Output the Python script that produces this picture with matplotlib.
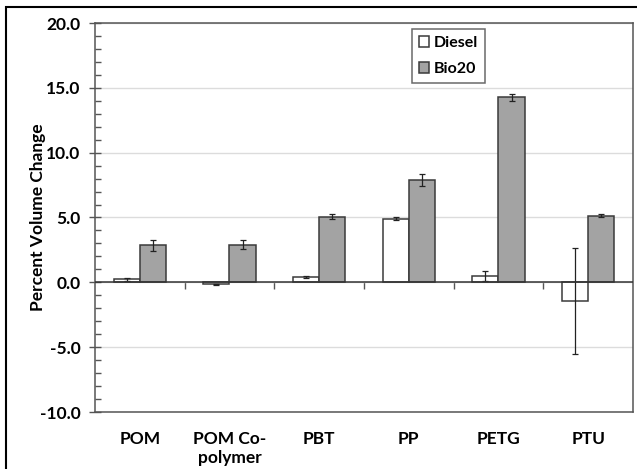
import numpy as np
import matplotlib
matplotlib.use('Agg')
import matplotlib.pyplot as plt
from matplotlib.patches import Rectangle

# values
materials = ['POM', 'POM Co-\npolymer', 'PBT', 'PP', 'PETG', 'PTU']
diesel = [0.22, -0.15, 0.40, 4.90, 0.46, -1.44]
diesel_err = [0.15, 0.03, 0.05, 0.10, 0.38, 4.10]
bio20 = [2.85, 2.90, 5.05, 7.88, 14.28, 5.15]
bio20_err = [0.45, 0.33, 0.20, 0.45, 0.28, 0.13]

plt.rcParams['font.family'] = ['Lato', 'DejaVu Sans']
plt.rcParams['font.weight'] = 'bold'
plt.rcParams['axes.labelweight'] = 'bold'

fig = plt.figure(figsize=(6.37, 4.69), dpi=100)
ax = fig.add_axes([95 / 637, 57 / 469, 538 / 637, 389 / 469])

x = np.arange(len(materials))
w = 0.29
edge = '#3a3a3a'
ax.bar(x - w / 2, diesel, w, color='white', edgecolor=edge, linewidth=1.1,
       label='Diesel', zorder=3)
ax.bar(x + w / 2, bio20, w, color='#a3a3a3', edgecolor=edge, linewidth=1.1,
       label='Bio20', zorder=3)
ax.errorbar(x - w / 2, diesel, yerr=diesel_err, fmt='none', ecolor='#222222',
            elinewidth=0.9, capsize=2.5, capthick=0.9, zorder=4)
ax.errorbar(x + w / 2, bio20, yerr=bio20_err, fmt='none', ecolor='#222222',
            elinewidth=0.9, capsize=2.5, capthick=0.9, zorder=4)

ax.set_xlim(-0.5, len(materials) - 0.5)
ax.set_ylim(-10, 20)
ax.set_yticks(np.arange(-10, 20.1, 5))
ax.set_yticklabels([f'{v:.1f}' for v in np.arange(-10, 20.1, 5)])
ax.set_yticks(np.arange(-10, 20.1, 1), minor=True)
ax.yaxis.grid(True, color='#dcdcdc', linewidth=1.0, zorder=0)
ax.set_axisbelow(True)
ax.tick_params(axis='y', which='major', direction='inout', length=9,
               width=1, color='#555555', labelsize=12.5, pad=6)
ax.tick_params(axis='y', which='minor', direction='in', length=4,
               width=1, color='#555555')

ax.set_xticks(x)
ax.set_xticklabels(materials, fontsize=12.5, linespacing=1.2)
ax.tick_params(axis='x', length=0, pad=14)

# zero line with category boundary ticks
ax.axhline(0, color='#333333', linewidth=1.1, zorder=5)
sec = ax.secondary_xaxis(1 / 3)
sec.set_xticks(np.arange(0.5, len(materials) - 0.5, 1))
sec.set_xticklabels([])
sec.tick_params(direction='out', length=5, width=1, color='#555555')
sec.spines['bottom'].set_visible(False)
sec.spines['top'].set_visible(False)

for s in ax.spines.values():
    s.set_color('#555555')
    s.set_linewidth(1.1)

ax.set_ylabel('Percent Volume Change', fontsize=12.5)
ax.yaxis.set_label_coords(-0.092, 0.5)

leg = ax.legend(loc='upper left', bbox_to_anchor=(317 / 538, 383 / 389),
                fontsize=11.5, frameon=True, fancybox=False,
                handlelength=0.6, handleheight=0.6, handletextpad=0.3,
                borderpad=0.45, labelspacing=0.75, borderaxespad=0)
leg.get_frame().set_edgecolor('#444444')
leg.get_frame().set_linewidth(1.1)

# outer border around the figure
fig.patches.append(Rectangle((6 / 637, -0.1), 1.2, (469 - 7) / 469 + 0.1,
                             transform=fig.transFigure, fill=False,
                             edgecolor='black', linewidth=1.5))

fig.savefig('out.png', dpi=100)
